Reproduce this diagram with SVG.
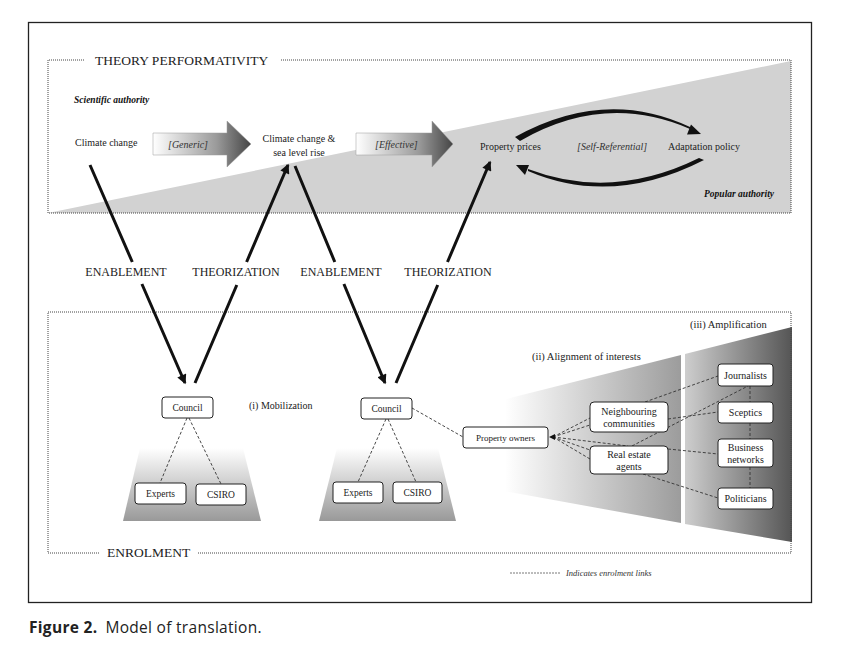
<svg xmlns="http://www.w3.org/2000/svg" width="847" height="653" viewBox="0 0 847 653">
<defs>
<style>
.t{font-family:"Liberation Serif","Times New Roman",serif;fill:#222}
.ti{font-family:"Liberation Serif","Times New Roman",serif;font-style:italic;fill:#333}
.tbi{font-family:"Liberation Serif","Times New Roman",serif;font-style:italic;font-weight:bold;fill:#111}
.frame{fill:none;stroke:#444;stroke-width:1;stroke-dasharray:1 1}
.box{fill:#fff;stroke:#222;stroke-width:1}
.dash{fill:none;stroke:#333;stroke-width:0.9;stroke-dasharray:3 2}
.thick{fill:none;stroke:#111;stroke-width:3}
</style>
<marker id="ah" viewBox="0 0 10 10" refX="8.5" refY="5" markerWidth="3.6" markerHeight="3.2" orient="auto" markerUnits="strokeWidth">
<path d="M0,0 L10,5 L0,10 Z" fill="#111"/>
</marker>
<linearGradient id="gArrow" x1="0" y1="0" x2="1" y2="0">
<stop offset="0" stop-color="#ffffff"/>
<stop offset="0.65" stop-color="#9a9a9a"/>
<stop offset="1" stop-color="#454545"/>
</linearGradient>
<linearGradient id="gTrap" x1="0" y1="0" x2="0" y2="1">
<stop offset="0" stop-color="#ffffff"/>
<stop offset="1" stop-color="#999999"/>
</linearGradient>
<linearGradient id="gAlign" gradientUnits="userSpaceOnUse" x1="505" y1="0" x2="681" y2="0">
<stop offset="0" stop-color="#ffffff"/>
<stop offset="1" stop-color="#9c9c9c"/>
</linearGradient>
<linearGradient id="gAmp" gradientUnits="userSpaceOnUse" x1="684" y1="0" x2="792" y2="0">
<stop offset="0" stop-color="#cfcfcf"/>
<stop offset="1" stop-color="#555555"/>
</linearGradient>
</defs>
<rect width="847" height="653" fill="#fff"/>
<rect x="28.5" y="22.5" width="783" height="580" fill="none" stroke="#222" stroke-width="1.3"/>

<!-- Theory performativity frame -->
<g id="theory-frame">
<polygon points="48,213 791,61 791,213" fill="#d2d2d2"/>
<path class="frame" d="M84,60 H48 V213 H791 V60 H280"/>
<text class="t" x="95" y="65" font-size="13.5" fill="#333">THEORY PERFORMATIVITY</text>
<text class="tbi" x="74" y="103" font-size="9.5">Scientific authority</text>
<text class="tbi" x="774" y="197" font-size="9.5" text-anchor="end">Popular authority</text>
</g>

<g id="node-climate-change"><text class="t" x="75" y="146" font-size="10">Climate change</text></g>
<g id="arrow-generic">
<path d="M153,133 L227,133 L227,121 L251,144 L227,167 L227,155 L153,155 Z" fill="url(#gArrow)" stroke="#999" stroke-width="0.5"/>
<text class="ti" x="168" y="148" font-size="10">[Generic]</text>
</g>
<g id="node-sea-level"><text class="t" x="299" y="142" font-size="10" text-anchor="middle">Climate change &amp;</text><text class="t" x="299" y="156" font-size="10" text-anchor="middle">sea level rise</text></g>
<g id="arrow-effective">
<path d="M356,133 L432,133 L432,121 L453,144 L432,167 L432,155 L356,155 Z" fill="url(#gArrow)" stroke="#999" stroke-width="0.5"/>
<text class="ti" x="375" y="148" font-size="10">[Effective]</text>
</g>
<g id="node-property-prices"><text class="t" x="480" y="150" font-size="10">Property prices</text></g>
<g id="node-adaptation-policy"><text class="t" x="668" y="150" font-size="10">Adaptation policy</text></g>
<g id="self-referential">
<text class="ti" x="577" y="150" font-size="10">[Self-Referential]</text>
<path d="M515,137 Q605,87 690,127 L690,129 Q605,92 520,141 Z" fill="#111"/>
<polygon points="701,134 687,134.5 691,124.5" fill="#111"/>
<path d="M704,160 Q612,207 528,171 L528,169 Q612,201 699,158 Z" fill="#111"/>
<polygon points="516,165 529,165 525,175" fill="#111"/>
</g>

<!-- Enrolment frame -->
<g id="enrolment-frame">
<polygon points="470,408 681,355 681,523 470,485" fill="url(#gAlign)"/>
<polygon points="685,354 792,327 792,542 685,524" fill="url(#gAmp)"/>
<polygon points="140,448 243,448 261,521 123,521" fill="url(#gTrap)"/>
<polygon points="337,448 438,448 456,521 319,521" fill="url(#gTrap)"/>
<path class="frame" d="M198,553 H791 V312 H48 V553 H100"/>
<text class="t" x="107" y="557" font-size="13.5" fill="#333">ENROLMENT</text>
<text class="t" x="249" y="409" font-size="10">(i) Mobilization</text>
<text class="t" x="532" y="360" font-size="10.5">(ii) Alignment of interests</text>
<text class="t" x="690" y="328" font-size="10.5">(iii) Amplification</text>
</g>

<!-- connectors -->
<g id="connectors">
<path class="thick" d="M90,165 L132.3,262 M141.9,284 L185,383" marker-end="url(#ah)"/>
<path class="thick" d="M195,383 L236.8,285 M246.6,262 L288,165" marker-end="url(#ah)"/>
<path class="thick" d="M295,166 L334.8,262 M343.9,284 L385,383" marker-end="url(#ah)"/>
<path class="thick" d="M396,383 L437.7,285 M447.5,262 L490,162" marker-end="url(#ah)"/>
<text class="t" x="126" y="276" font-size="12" text-anchor="middle">ENABLEMENT</text>
<text class="t" x="236" y="276" font-size="12" text-anchor="middle">THEORIZATION</text>
<text class="t" x="341" y="276" font-size="12" text-anchor="middle">ENABLEMENT</text>
<text class="t" x="448" y="276" font-size="12" text-anchor="middle">THEORIZATION</text>

<path class="dash" d="M187,418 L160,483 M189,418 L221,484"/>
<path class="dash" d="M386,419 L358,482 M388,419 L416,482"/>
<path class="dash" d="M412,408 L463,437"/>
<path class="dash" d="M553,437 L590,418 M553,437 L590,425 M553,437 L628,446 M553,437 L590,450 M553,437 L590,459"/>
<path class="dash" d="M632,446 L748,386"/>
<path class="dash" d="M645,402 L718,376 M668,419 L718,412 M668,449 L718,454 M643,474 L718,498"/>
<path class="dash" d="M750,386 V402 M750,423 V439 M750,467 V488"/>
<polygon points="549,437 555,434 555,440" fill="#111"/>
</g>

<!-- nodes -->
<g id="council-1"><rect class="box" x="162" y="397" width="51" height="21" rx="3"/><text class="t" x="187.5" y="411" font-size="9.5" text-anchor="middle">Council</text></g>
<g id="experts-1"><rect class="box" x="135" y="483" width="51" height="21" rx="3"/><text class="t" x="160.5" y="497" font-size="9.5" text-anchor="middle">Experts</text></g>
<g id="csiro-1"><rect class="box" x="196" y="484" width="50" height="21" rx="3"/><text class="t" x="221" y="498" font-size="9.5" text-anchor="middle">CSIRO</text></g>
<g id="council-2"><rect class="box" x="361" y="398" width="51" height="21" rx="3"/><text class="t" x="386.5" y="412" font-size="9.5" text-anchor="middle">Council</text></g>
<g id="experts-2"><rect class="box" x="333" y="482" width="50" height="21" rx="3"/><text class="t" x="358" y="496" font-size="9.5" text-anchor="middle">Experts</text></g>
<g id="csiro-2"><rect class="box" x="393" y="482" width="49" height="21" rx="3"/><text class="t" x="417.5" y="496" font-size="9.5" text-anchor="middle">CSIRO</text></g>
<g id="property-owners"><rect class="box" x="463" y="427" width="85" height="21" rx="3"/><text class="t" x="505.5" y="441" font-size="9" text-anchor="middle">Property owners</text></g>
<g id="neighbouring-communities"><rect class="box" x="590" y="402" width="78" height="30" rx="4"/><text class="t" x="629" y="415" font-size="10" text-anchor="middle">Neighbouring</text><text class="t" x="629" y="427" font-size="10" text-anchor="middle">communities</text></g>
<g id="real-estate-agents"><rect class="box" x="590" y="446" width="78" height="28" rx="4"/><text class="t" x="629" y="458" font-size="10" text-anchor="middle">Real estate</text><text class="t" x="629" y="470" font-size="10" text-anchor="middle">agents</text></g>
<g id="journalists"><rect class="box" x="718" y="364" width="55" height="22" rx="3"/><text class="t" x="745.5" y="379" font-size="10" text-anchor="middle">Journalists</text></g>
<g id="sceptics"><rect class="box" x="718" y="402" width="55" height="21" rx="3"/><text class="t" x="745.5" y="416" font-size="10" text-anchor="middle">Sceptics</text></g>
<g id="business-networks"><rect class="box" x="718" y="439" width="55" height="28" rx="3"/><text class="t" x="745.5" y="451" font-size="10" text-anchor="middle">Business</text><text class="t" x="745.5" y="463" font-size="10" text-anchor="middle">networks</text></g>
<g id="politicians"><rect class="box" x="718" y="488" width="55" height="21" rx="3"/><text class="t" x="745.5" y="502" font-size="10" text-anchor="middle">Politicians</text></g>

<g id="legend">
<path d="M510,573 H560" stroke="#555" stroke-width="0.8" stroke-dasharray="2 1"/>
<text class="ti" x="566" y="576" font-size="8.5">Indicates enrolment links</text>
</g>

<text x="29" y="633" font-family="'Open Sans',Lato,sans-serif" font-size="15.5" letter-spacing="0.3" fill="#222"><tspan font-weight="bold">Figure 2.</tspan><tspan dx="8">Model of translation.</tspan></text>
</svg>
